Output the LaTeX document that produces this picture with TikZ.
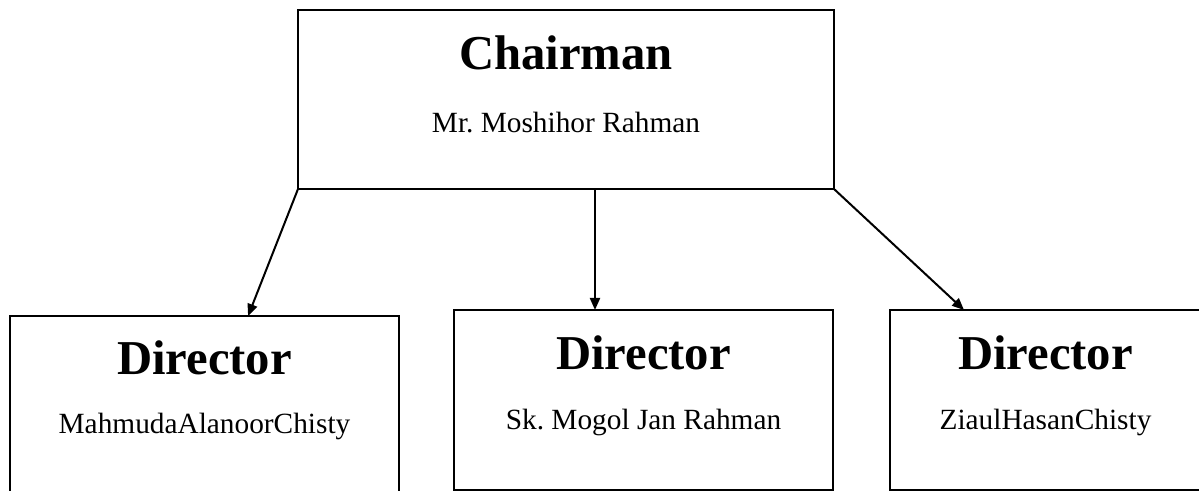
\documentclass[tikz,border=0pt]{standalone}
\usepackage{fontspec}
\setmainfont{Liberation Serif}
\usetikzlibrary{arrows.meta, positioning, calc}

\begin{document}
\begin{tikzpicture}[x=0.75pt, y=-0.75pt,
  box/.style={draw=black, line width=1.5pt, inner sep=0pt, outer sep=0pt},
  rank/.style={font=\fontsize{36.5}{40}\selectfont\bfseries, anchor=base, inner sep=0pt},
  who/.style={font=\fontsize{22}{26}\selectfont, anchor=base, inner sep=0pt},
  link/.style={-{Triangle[length=9pt, width=7.5pt]}, line width=1.5pt}]
% page
\useasboundingbox (0,0) rectangle (1199,491);

% ---- chairman ----
\node[box, line width=2pt, minimum width=402pt, minimum height=134.25pt] (chair) at (566,99.5) {};
\node[rank] (chairT) at (566,70) {Chairman};
\node[who]  (chairN) at (566,133) {Mr.\ Moshihor Rahman};

% ---- directors ----
\node[box, minimum width=291.75pt, minimum height=160.5pt] (dirA) at (204.5,423) {};
\node[rank] (dirAT) at (204.5,374) {Director};
\node[who]  (dirAN) at (204.5,433) {MahmudaAlanoorChisty};

\node[box, minimum width=284.25pt, minimum height=135pt] (dirB) at (643.5,400) {};
\node[rank] (dirBT) at (643.5,370) {Director};
\node[who]  (dirBN) at (643.5,429) {Sk.\ Mogol Jan Rahman};

\node[box, minimum width=233.25pt, minimum height=135pt] (dirC) at (1045.5,400) {};
\node[rank] (dirCT) at (1045.5,370) {Director};
\node[who]  (dirCN) at (1045.5,429) {ZiaulHasanChisty};

% arrow ends
\coordinate (tipA) at ($(dirA.north west)!0.612!(dirA.north east)$);
\coordinate (tipB) at ($(dirB.north west)!0.372!(dirB.north east)$);
\coordinate (tipC) at ($(dirC.north west)!0.238!(dirC.north east)$);

\draw[link] (chair.south west) -- (tipA);
\draw[link] (chair.south -| tipB) -- (tipB);
\draw[link] (chair.south east) -- (tipC);
\end{tikzpicture}
\end{document}
